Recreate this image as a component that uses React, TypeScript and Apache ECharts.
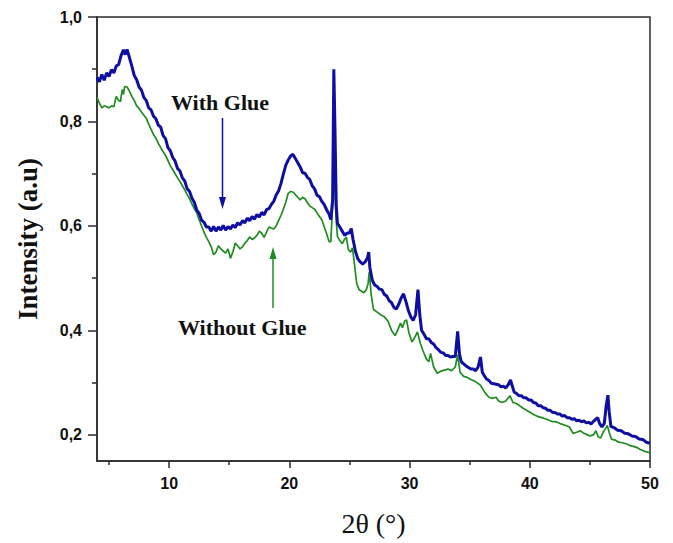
import React, { useEffect, useRef } from "react";
import * as echarts from "echarts";

const withGlue: [number, number][] = [
  [4.0, 0.885], [4.2, 0.876], [4.4, 0.890], [4.6, 0.879], [4.8, 0.893], [5.0, 0.886], [5.2, 0.899], [5.4, 0.893],
  [5.6, 0.906], [5.8, 0.909], [6.0, 0.926], [6.2, 0.937], [6.35, 0.928], [6.5, 0.938], [6.7, 0.922], [6.9, 0.906],
  [7.1, 0.888], [7.3, 0.880], [7.5, 0.866], [7.7, 0.860], [7.9, 0.846], [8.1, 0.840], [8.3, 0.826], [8.5, 0.822],
  [8.7, 0.810], [8.9, 0.805], [9.1, 0.793], [9.3, 0.789], [9.5, 0.773], [9.7, 0.767], [9.9, 0.750], [10.1, 0.744],
  [10.3, 0.731], [10.5, 0.724], [10.7, 0.710], [10.9, 0.705], [11.1, 0.692], [11.3, 0.686], [11.5, 0.671], [11.7, 0.666],
  [11.9, 0.653], [12.1, 0.645], [12.3, 0.630], [12.5, 0.624], [12.7, 0.611], [12.9, 0.607], [13.1, 0.598], [13.3, 0.598],
  [13.5, 0.590], [13.7, 0.599], [13.9, 0.590], [14.1, 0.598], [14.3, 0.592], [14.5, 0.601], [14.7, 0.592], [14.9, 0.599],
  [15.1, 0.594], [15.3, 0.602], [15.5, 0.597], [15.7, 0.606], [15.9, 0.602], [16.1, 0.610], [16.3, 0.606], [16.5, 0.615],
  [16.7, 0.610], [16.9, 0.618], [17.1, 0.613], [17.3, 0.622], [17.5, 0.617], [17.7, 0.626], [17.9, 0.621], [18.1, 0.631],
  [18.3, 0.633], [18.5, 0.641], [18.7, 0.647], [18.9, 0.659], [19.1, 0.667], [19.3, 0.681], [19.5, 0.699], [19.7, 0.716],
  [19.9, 0.726], [20.1, 0.734], [20.3, 0.737], [20.5, 0.729], [20.7, 0.721], [20.9, 0.713], [21.1, 0.702], [21.3, 0.701],
  [21.5, 0.693], [21.7, 0.689], [21.9, 0.677], [22.1, 0.671], [22.3, 0.659], [22.5, 0.656], [22.7, 0.647], [22.9, 0.641],
  [23.1, 0.631], [23.3, 0.623], [23.45, 0.612], [23.6, 0.650], [23.7, 0.900], [23.8, 0.780], [23.9, 0.640], [24.0, 0.605],
  [24.2, 0.598], [24.4, 0.590], [24.6, 0.582], [24.8, 0.586], [25.0, 0.587], [25.15, 0.595], [25.3, 0.574], [25.5, 0.551],
  [25.7, 0.537], [25.9, 0.531], [26.1, 0.527], [26.3, 0.531], [26.5, 0.539], [26.6, 0.550], [26.7, 0.520], [26.9, 0.496],
  [27.1, 0.487], [27.3, 0.484], [27.5, 0.479], [27.7, 0.478], [27.9, 0.469], [28.1, 0.466], [28.3, 0.457], [28.5, 0.453],
  [28.7, 0.444], [28.9, 0.441], [29.1, 0.450], [29.3, 0.462], [29.5, 0.470], [29.7, 0.455], [29.9, 0.438], [30.1, 0.426],
  [30.3, 0.419], [30.5, 0.430], [30.7, 0.478], [30.85, 0.430], [31.0, 0.400], [31.2, 0.393], [31.4, 0.384], [31.6, 0.384],
  [31.8, 0.377], [32.0, 0.374], [32.2, 0.367], [32.4, 0.363], [32.6, 0.358], [32.8, 0.357], [33.0, 0.352], [33.2, 0.352],
  [33.4, 0.349], [33.6, 0.350], [33.8, 0.350], [34.0, 0.398], [34.15, 0.355], [34.3, 0.340], [34.5, 0.336], [34.7, 0.332],
  [34.9, 0.329], [35.1, 0.326], [35.3, 0.326], [35.5, 0.323], [35.7, 0.330], [35.9, 0.349], [36.05, 0.320], [36.2, 0.314],
  [36.4, 0.307], [36.6, 0.304], [36.8, 0.299], [37.0, 0.298], [37.2, 0.297], [37.4, 0.296], [37.6, 0.292], [37.8, 0.293],
  [38.0, 0.290], [38.2, 0.296], [38.4, 0.305], [38.55, 0.293], [38.7, 0.282], [38.9, 0.279], [39.1, 0.275], [39.3, 0.275],
  [39.5, 0.271], [39.7, 0.271], [39.9, 0.267], [40.1, 0.267], [40.3, 0.262], [40.5, 0.261], [40.7, 0.256], [40.9, 0.256],
  [41.1, 0.252], [41.3, 0.251], [41.5, 0.247], [41.7, 0.247], [41.9, 0.243], [42.1, 0.243], [42.3, 0.240], [42.5, 0.240],
  [42.7, 0.236], [42.9, 0.237], [43.1, 0.233], [43.3, 0.233], [43.5, 0.230], [43.7, 0.231], [43.9, 0.227], [44.1, 0.228],
  [44.3, 0.225], [44.5, 0.227], [44.7, 0.223], [44.9, 0.224], [45.1, 0.221], [45.3, 0.226], [45.5, 0.230], [45.65, 0.233],
  [45.8, 0.222], [46.0, 0.215], [46.2, 0.222], [46.35, 0.255], [46.5, 0.276], [46.6, 0.245], [46.75, 0.216], [47.0, 0.214],
  [47.3, 0.209], [47.6, 0.208], [47.9, 0.203], [48.2, 0.202], [48.5, 0.198], [48.8, 0.197], [49.1, 0.192], [49.4, 0.191],
  [49.7, 0.186], [50.0, 0.184],
];

const withoutGlue: [number, number][] = [
  [4.0, 0.846], [4.2, 0.835], [4.4, 0.826], [4.6, 0.830], [4.8, 0.828], [5.0, 0.826], [5.2, 0.830], [5.4, 0.828],
  [5.6, 0.848], [5.8, 0.840], [5.95, 0.838], [6.1, 0.861], [6.2, 0.852], [6.3, 0.867], [6.5, 0.866], [6.7, 0.858],
  [6.9, 0.848], [7.1, 0.840], [7.3, 0.830], [7.5, 0.825], [7.7, 0.818], [7.9, 0.812], [8.1, 0.806], [8.3, 0.795],
  [8.5, 0.785], [8.7, 0.775], [8.9, 0.768], [9.1, 0.758], [9.3, 0.750], [9.5, 0.742], [9.7, 0.735], [9.9, 0.725],
  [10.1, 0.715], [10.3, 0.708], [10.5, 0.700], [10.7, 0.692], [10.9, 0.685], [11.1, 0.677], [11.3, 0.669], [11.5, 0.660],
  [11.7, 0.652], [11.9, 0.642], [12.1, 0.633], [12.3, 0.625], [12.5, 0.612], [12.7, 0.600], [12.9, 0.588], [13.1, 0.578],
  [13.3, 0.570], [13.5, 0.560], [13.7, 0.545], [13.9, 0.550], [14.1, 0.562], [14.3, 0.556], [14.5, 0.552], [14.7, 0.548],
  [14.9, 0.556], [15.1, 0.538], [15.3, 0.550], [15.5, 0.567], [15.7, 0.562], [15.9, 0.556], [16.1, 0.560], [16.3, 0.567],
  [16.5, 0.572], [16.7, 0.579], [16.9, 0.574], [17.1, 0.577], [17.3, 0.582], [17.5, 0.590], [17.7, 0.586], [17.9, 0.578],
  [18.1, 0.588], [18.3, 0.598], [18.5, 0.596], [18.7, 0.594], [18.9, 0.600], [19.1, 0.610], [19.3, 0.620], [19.5, 0.632],
  [19.7, 0.645], [19.9, 0.662], [20.1, 0.666], [20.3, 0.665], [20.5, 0.660], [20.7, 0.655], [20.9, 0.650], [21.1, 0.655],
  [21.3, 0.652], [21.5, 0.645], [21.7, 0.638], [21.9, 0.635], [22.1, 0.632], [22.3, 0.625], [22.5, 0.618], [22.7, 0.612],
  [22.9, 0.598], [23.1, 0.585], [23.3, 0.570], [23.45, 0.570], [23.6, 0.640], [23.7, 0.728], [23.8, 0.660], [23.9, 0.610],
  [24.0, 0.580], [24.2, 0.572], [24.4, 0.566], [24.6, 0.575], [24.75, 0.578], [24.9, 0.555], [25.1, 0.550], [25.25, 0.558],
  [25.4, 0.530], [25.6, 0.490], [25.8, 0.478], [26.0, 0.475], [26.2, 0.472], [26.4, 0.478], [26.55, 0.490], [26.65, 0.512],
  [26.8, 0.470], [27.0, 0.440], [27.3, 0.435], [27.6, 0.430], [27.9, 0.426], [28.2, 0.418], [28.5, 0.400], [28.8, 0.390],
  [29.0, 0.400], [29.25, 0.414], [29.4, 0.405], [29.6, 0.418], [29.75, 0.420], [29.95, 0.395], [30.2, 0.378], [30.4, 0.385],
  [30.65, 0.397], [30.9, 0.375], [31.1, 0.362], [31.4, 0.345], [31.6, 0.340], [31.75, 0.356], [32.0, 0.330], [32.3, 0.318],
  [32.6, 0.322], [32.9, 0.324], [33.2, 0.326], [33.5, 0.323], [33.8, 0.330], [34.0, 0.353], [34.2, 0.320], [34.5, 0.312],
  [34.8, 0.310], [35.1, 0.306], [35.4, 0.303], [35.6, 0.300], [35.9, 0.295], [36.3, 0.280], [36.6, 0.272], [36.9, 0.270],
  [37.2, 0.272], [37.4, 0.265], [37.7, 0.262], [38.0, 0.265], [38.35, 0.275], [38.6, 0.262], [38.9, 0.260], [39.2, 0.255],
  [39.5, 0.250], [39.8, 0.246], [40.1, 0.242], [40.4, 0.238], [40.7, 0.235], [41.0, 0.233], [41.4, 0.230], [41.8, 0.226],
  [42.2, 0.225], [42.6, 0.221], [43.0, 0.218], [43.3, 0.215], [43.6, 0.203], [43.9, 0.205], [44.2, 0.208], [44.5, 0.203],
  [44.8, 0.200], [45.0, 0.198], [45.3, 0.200], [45.5, 0.208], [45.7, 0.196], [45.9, 0.194], [46.1, 0.205], [46.3, 0.212],
  [46.45, 0.218], [46.6, 0.205], [46.8, 0.192], [47.1, 0.190], [47.4, 0.186], [47.7, 0.185], [48.0, 0.183], [48.3, 0.180],
  [48.6, 0.178], [48.9, 0.176], [49.2, 0.172], [49.5, 0.169], [49.8, 0.167], [50.0, 0.166],
];

const xMajorTicks = [10, 20, 30, 40, 50];
const xMinorTicks = [5, 15, 25, 35, 45];
const yMajorTicks = [0.2, 0.4, 0.6, 0.8, 1.0];
const yMinorTicks = [0.3, 0.5, 0.7, 0.9];

const AXIS_COLOR = "#2b2b2b";
const BLUE = "#0e0ea2";
const GREEN = "#1f8c1f";

export default function App() {
  const ref = useRef<HTMLDivElement>(null);
  useEffect(() => {
    if (!ref.current) return;
    const chart = echarts.init(ref.current, null, { renderer: "svg" });
    const labelStyle = {
      fontFamily: "Arial, 'Liberation Sans', sans-serif",
      fontWeight: "bold" as const,
      fontSize: 16,
      color: "#111",
    };
    chart.setOption({
      animation: false,
      backgroundColor: "#fff",
      grid: {
        left: 97,
        right: 23,
        top: 17,
        bottom: 82,
        show: true,
        borderColor: AXIS_COLOR,
        borderWidth: 1.5,
        backgroundColor: "transparent",
      },
      xAxis: [
        {
          type: "value",
          min: 4,
          max: 50,
          position: "bottom",
          name: "2θ (°)",
          nameLocation: "middle",
          nameGap: 48,
          nameTextStyle: {
            fontFamily: "'Times New Roman', 'Liberation Serif', serif",
            fontSize: 28,
            color: "#111",
          },
          axisLine: { show: true, onZero: false, lineStyle: { color: AXIS_COLOR, width: 1.5 } },
          axisTick: { show: true, length: 7, customValues: xMajorTicks, lineStyle: { color: AXIS_COLOR, width: 1.5 } },
          axisLabel: { ...labelStyle, margin: 14, customValues: xMajorTicks, formatter: (v: number) => String(v) },
          splitLine: { show: false },
        },
        {
          type: "value",
          min: 4,
          max: 50,
          position: "bottom",
          axisLine: { show: false, onZero: false },
          axisTick: { show: true, length: 4, customValues: xMinorTicks, lineStyle: { color: AXIS_COLOR, width: 1.5 } },
          axisLabel: { show: false, customValues: xMinorTicks },
          splitLine: { show: false },
        },
      ],
      yAxis: [
        {
          type: "value",
          min: 0.15,
          max: 1.0,
          position: "left",
          name: "Intensity (a.u)",
          nameLocation: "middle",
          nameGap: 56,
          nameTextStyle: {
            fontFamily: "'Times New Roman', 'Liberation Serif', serif",
            fontWeight: "bold",
            fontSize: 27,
            color: "#111",
          },
          axisLine: { show: true, onZero: false, lineStyle: { color: AXIS_COLOR, width: 1.5 } },
          axisTick: { show: true, length: 9, customValues: yMajorTicks, lineStyle: { color: AXIS_COLOR, width: 1.5 } },
          axisLabel: {
            ...labelStyle,
            margin: 15,
            customValues: yMajorTicks,
            formatter: (v: number) => v.toFixed(1).replace(".", ","),
          },
          splitLine: { show: false },
        },
        {
          type: "value",
          min: 0.15,
          max: 1.0,
          position: "left",
          axisLine: { show: false, onZero: false },
          axisTick: { show: true, length: 5, customValues: yMinorTicks, lineStyle: { color: AXIS_COLOR, width: 1.5 } },
          axisLabel: { show: false, customValues: yMinorTicks },
          splitLine: { show: false },
        },
      ],
      series: [
        {
          name: "Without Glue",
          type: "line",
          data: withoutGlue,
          showSymbol: false,
          lineStyle: { color: GREEN, width: 1.7 },
          z: 2,
        },
        {
          name: "With Glue",
          type: "line",
          data: withGlue,
          showSymbol: false,
          lineStyle: { color: BLUE, width: 3 },
          z: 3,
        },
      ],
      graphic: [
        {
          type: "text",
          left: 171,
          top: 91,
          style: {
            text: "With Glue",
            font: "bold 22px 'Times New Roman', 'Liberation Serif', serif",
            fill: "#111",
          },
        },
        {
          type: "line",
          shape: { x1: 222.5, y1: 118, x2: 222.5, y2: 200 },
          style: { stroke: BLUE, lineWidth: 1.5 },
        },
        {
          type: "polygon",
          shape: { points: [[219, 197], [226, 197], [222.5, 209]] },
          style: { fill: BLUE },
        },
        {
          type: "text",
          left: 178,
          top: 316,
          style: {
            text: "Without Glue",
            font: "bold 22px 'Times New Roman', 'Liberation Serif', serif",
            fill: "#111",
          },
        },
        {
          type: "line",
          shape: { x1: 273, y1: 308, x2: 273, y2: 257 },
          style: { stroke: GREEN, lineWidth: 1.5 },
        },
        {
          type: "polygon",
          shape: { points: [[269.5, 259], [276.5, 259], [273, 247]] },
          style: { fill: GREEN },
        },
      ],
    });
    return () => chart.dispose();
  }, []);
  return <div ref={ref} style={{ width: 673, height: 543, position: "absolute", left: 0, top: 0 }} />;
}
